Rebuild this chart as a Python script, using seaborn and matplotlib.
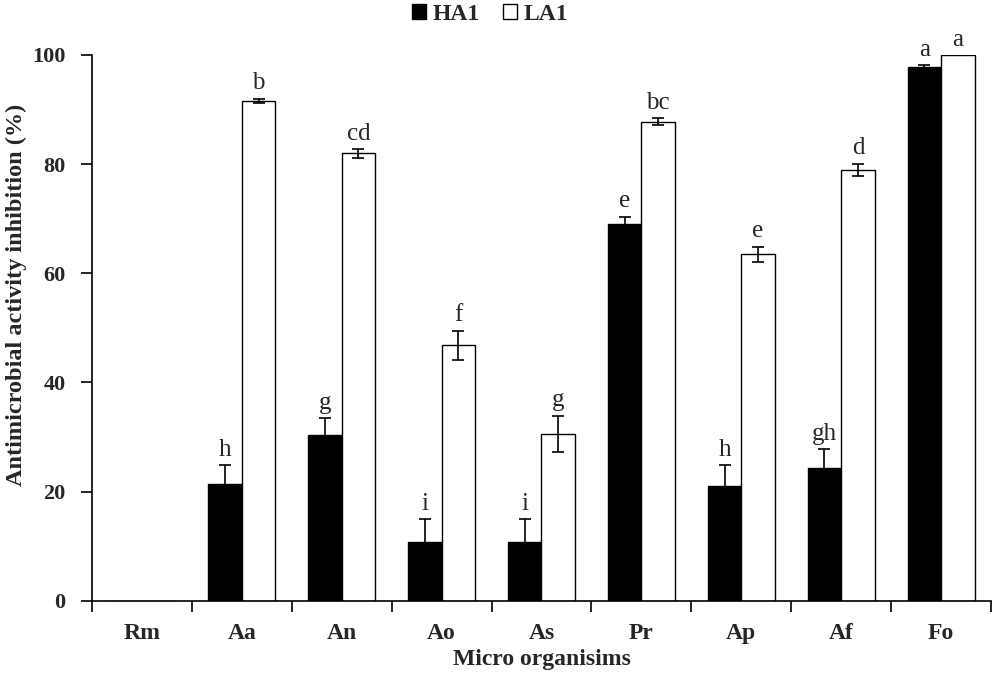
import numpy as np
import pandas as pd
import matplotlib
matplotlib.use("Agg")
import matplotlib.pyplot as plt
import seaborn as sns

# data
organisms = ["Rm", "Aa", "An", "Ao", "As", "Pr", "Ap", "Af", "Fo"]
ha1 = [0, 21.3, 30.4, 10.7, 10.7, 69.0, 21.0, 24.3, 97.8]
la1 = [0, 91.6, 82.0, 46.8, 30.6, 87.8, 63.5, 79.0, 100.0]
ha1_err = [0, 3.5, 3.0, 4.3, 4.3, 1.4, 3.8, 3.5, 0.3]
la1_err = [0, 0.4, 0.8, 2.7, 3.3, 0.6, 1.4, 1.1, 0.0]
ha1_letters = ["", "h", "g", "i", "i", "e", "h", "gh", "a"]
la1_letters = ["", "b", "cd", "f", "g", "bc", "e", "d", "a"]

df = pd.DataFrame({
    "organism": organisms * 2,
    "extract": ["HA1"] * len(organisms) + ["LA1"] * len(organisms),
    "value": ha1 + la1,
})

sns.set_style("white")
plt.rcParams["font.family"] = ["Liberation Serif", "DejaVu Serif"]

fig = plt.figure(figsize=(9.92, 6.82), dpi=100)
ax = fig.add_axes([0.0927, 0.1192, 0.9063, 0.8002])

sns.barplot(data=df, x="organism", y="value", hue="extract",
            palette={"HA1": "black", "LA1": "white"},
            edgecolor="black", linewidth=1.0, width=0.67,
            errorbar=None, ax=ax)

# error bars and letters on top of the bars
bars_ha = ax.containers[0]
bars_la = ax.containers[1]
for bars, vals, errs, letters in [(bars_ha, ha1, ha1_err, ha1_letters),
                                  (bars_la, la1, la1_err, la1_letters)]:
    for bar, v, e, lt in zip(bars, vals, errs, letters):
        xc = bar.get_x() + bar.get_width() / 2
        if v > 0:
            ax.errorbar(xc, v, yerr=e, fmt="none", ecolor="black",
                        elinewidth=1.2, capsize=4.5, capthick=1.2, zorder=3)
        if lt:
            ax.text(xc, v + e + 1.7, lt, ha="center", va="baseline",
                    fontsize=18)

ax.set_ylim(0, 100)
ax.set_xlim(-0.5, len(organisms) - 0.5)
ax.set_yticks(np.arange(0, 101, 20))
ax.set_xticks(np.arange(len(organisms)))
ax.set_xticklabels(organisms, fontsize=17, fontweight="bold")
ax.set_xticks(np.arange(len(organisms) + 1) - 0.5, minor=True)
ax.tick_params(axis="x", which="major", length=0, pad=16)
ax.tick_params(axis="x", which="minor", length=8, width=1.2, direction="out",
               bottom=True, color="black")
ax.tick_params(axis="y", length=8, width=1.2, direction="out", left=True,
               color="black", labelsize=16, pad=11)
for lab in ax.get_yticklabels():
    lab.set_fontweight("bold")

sns.despine(ax=ax)
for s in ["left", "bottom"]:
    ax.spines[s].set_color("black")
    ax.spines[s].set_linewidth(1.2)

ax.set_xlabel("Micro organisims", fontsize=17, fontweight="bold", labelpad=4)
ax.set_ylabel("Antimicrobial activity inhibition (%)", fontsize=17.5,
              fontweight="bold")
ax.yaxis.set_label_coords(-0.072, 0.56)

handles, labels = ax.get_legend_handles_labels()
ax.get_legend().remove()
fig.legend(handles, labels, loc="upper center", bbox_to_anchor=(0.494, 1.025),
           ncol=2, frameon=False, handlelength=0.6, handleheight=0.6,
           handletextpad=0.25, columnspacing=1.0,
           prop={"weight": "bold", "size": 17})

fig.savefig("out.png", dpi=100)
